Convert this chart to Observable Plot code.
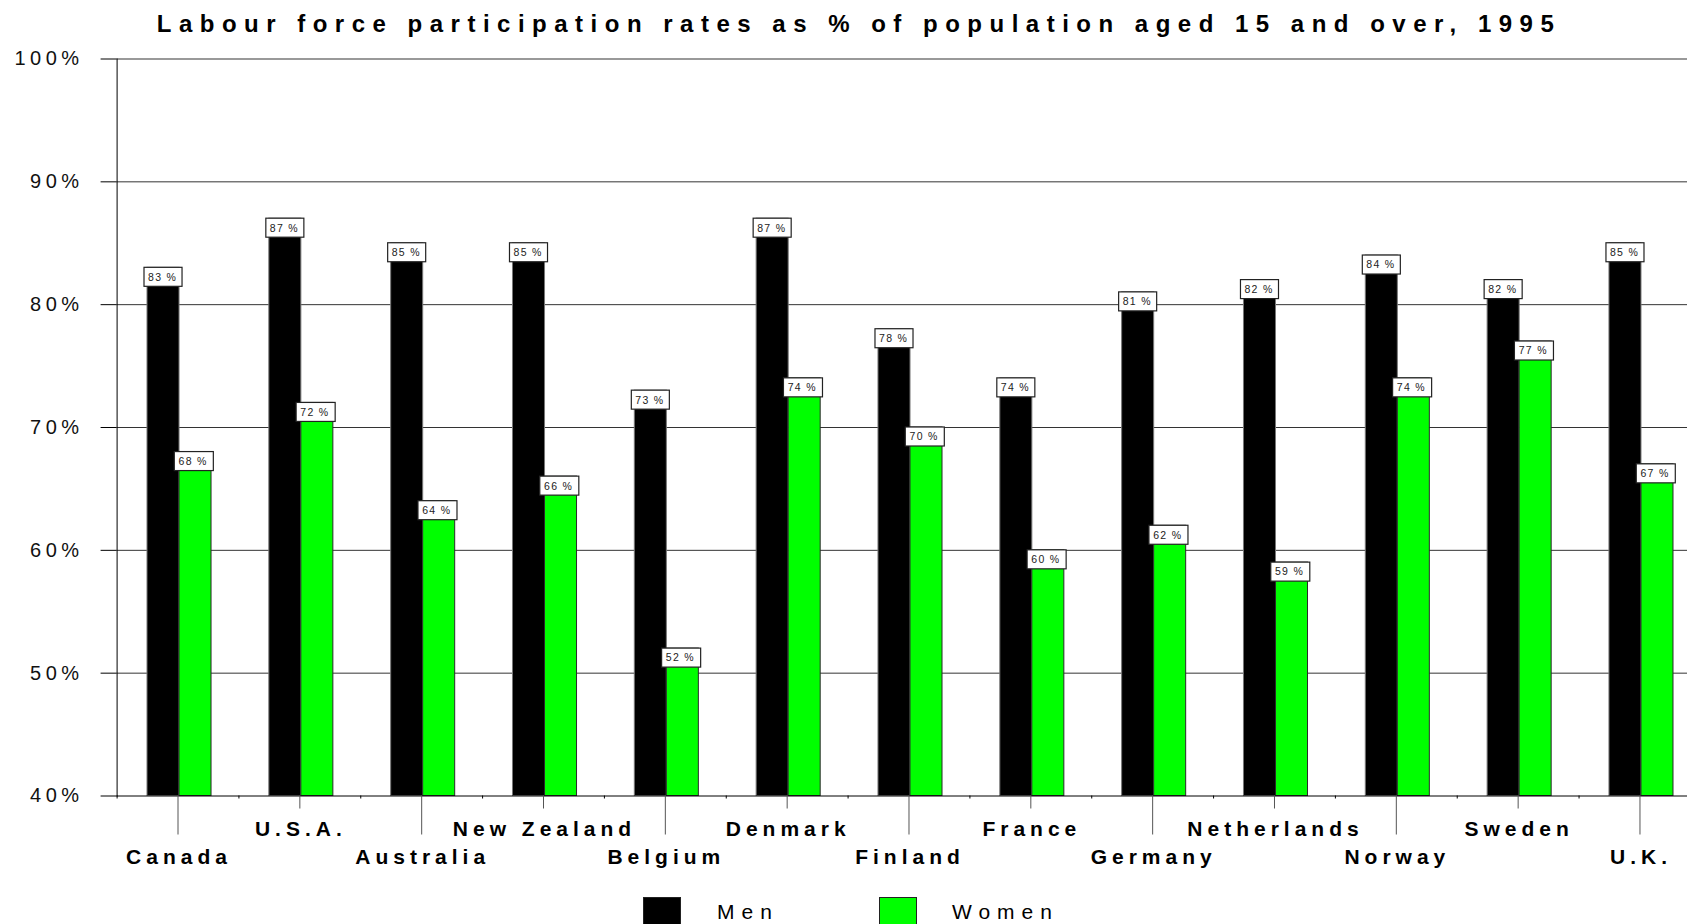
<!DOCTYPE html>
<html>
<head>
<meta charset="utf-8">
<script src="https://cdn.jsdelivr.net/npm/d3@7"></script>
<script src="https://cdn.jsdelivr.net/npm/@observablehq/plot@0.6"></script>
<style>
  html, body { margin: 0; padding: 0; background: #fff; overflow: hidden; }
  body { width: 1687px; height: 924px; font-family: "Liberation Sans", Arial, sans-serif; position: relative; }
  #title {
    height: 48px; line-height: 48px; white-space: nowrap;
    text-align: center; padding-left: 31px; box-sizing: border-box; width: 1687px;
    font-size: 24px; font-weight: bold; letter-spacing: 7.5px; color: #000;
  }
  #chart svg { display: block; }
  #chart g[aria-label="y-axis tick label"] { letter-spacing: 4.5px; }
  #chart g[aria-label="x-axis tick label"] { letter-spacing: 5px; }
  #chart g.value-label { letter-spacing: 1.3px; }
  #legend { position: relative; height: 40px; width: 1687px; }
  #legend .sw { position: absolute; top: 12.7px; width: 38px; height: 38px; box-sizing: border-box; border: 1px solid #222; }
  #legend .lb { position: absolute; top: 17px; font-size: 21px; line-height: 21px; letter-spacing: 7px; color: #000; }
</style>
</head>
<body>
<div id="title">Labour force participation rates as % of population aged 15 and over, 1995</div>
<div id="chart"></div>
<div id="legend"></div>
<script>
// Labour force participation, 1995 (% of population aged 15+)
const countries = ["Canada", "U.S.A.", "Australia", "New Zealand", "Belgium", "Denmark", "Finland",
                   "France", "Germany", "Netherlands", "Norway", "Sweden", "U.K."];
const men   = [83, 87, 85, 85, 73, 87, 78, 74, 81, 82, 84, 82, 85];
const women = [68, 72, 64, 66, 52, 74, 70, 60, 62, 59, 74, 77, 67];
const series = ["Men", "Women"];
const seriesColors = ["#000000", "#00ff00"];
const yTicks = [40, 50, 60, 70, 80, 90, 100];

const rows = countries.map((country, i) => ({country, men: men[i], women: women[i]}));
const lowerRow = countries.filter((_, i) => i % 2 === 0);
const upperRow = countries.filter((_, i) => i % 2 === 1);

const W = 1687, H = 836;
const left = 116.6, step = 121.83;
const base = yTicks[0];
const pct = v => `${v} %`;
const labelFont = {fontSize: 21, fontWeight: "bold", fill: "#000", label: null};

const chart = Plot.plot({
  width: W,
  height: H,
  marginLeft: left,
  marginRight: 0,
  marginTop: 10.5,
  marginBottom: 88.5,
  style: {fontFamily: "'Liberation Sans', Arial, sans-serif", background: "#fff", overflow: "hidden"},
  x: {domain: countries, range: [left, left + step * countries.length], padding: 0, round: false, label: null},
  y: {domain: [yTicks[0], yTicks[yTicks.length - 1]], label: null},
  marks: [
    Plot.gridY(yTicks.slice(1), {stroke: "#000", strokeOpacity: 0.8, strokeWidth: 1}),
    // bars
    Plot.barY(rows, {x: "country", y1: base, y2: "men", fill: seriesColors[0], stroke: "#777", strokeWidth: 1,
                     insetLeft: 30.4, insetRight: 59.4}),
    Plot.barY(rows, {x: "country", y1: base, y2: "women", fill: seriesColors[1], stroke: "#2a2a2a", strokeWidth: 1,
                     insetLeft: 62.4, insetRight: 27.4}),
    // axes
    Plot.axisY(yTicks, {tickSize: 16, tickPadding: 17.5, tickFormat: d => `${d}%`, fontSize: 20,
                        stroke: "#000", fill: "#111", label: null}),
    Plot.frame({anchor: "left", stroke: "#000"}),
    Plot.ruleY([base], {stroke: "#000"}),
    Plot.axisX(countries, {tickSize: 3, text: null, dx: -step / 2, stroke: "#000", label: null}),
    // country names in two staggered rows, with long and short ticks
    Plot.axisX(upperRow, {tickSize: 13, text: null, stroke: "#555", label: null}),
    Plot.axisX(lowerRow, {tickSize: 39, text: null, stroke: "#555", label: null}),
    Plot.axisX(upperRow, {tickSize: 0, tickPadding: 25, dx: 1, ...labelFont}),
    Plot.axisX(lowerRow, {tickSize: 0, tickPadding: 53, dx: 1, ...labelFont}),
    // value label boxes, top edge at the value
    Plot.barY(rows, {x: "country", y1: "men", y2: "men", insetBottom: -19, insetLeft: 27.4, insetRight: 56.4,
                     fill: "#fff", stroke: "#222", strokeWidth: 1.2}),
    Plot.barY(rows, {x: "country", y1: "women", y2: "women", insetBottom: -19, insetLeft: 57.7, insetRight: 25.1,
                     fill: "#fff", stroke: "#222", strokeWidth: 1.2}),
    Plot.text(rows, {x: "country", y: "men", text: d => pct(d.men), dy: 9.5, dx: -30, textAnchor: "start",
                     fontSize: 10.5, fill: "#222", className: "value-label"}),
    Plot.text(rows, {x: "country", y: "women", text: d => pct(d.women), dy: 9.5, dx: 0.5, textAnchor: "start",
                     fontSize: 10.5, fill: "#222", className: "value-label"})
  ]
});
chart.querySelectorAll("g.value-label").forEach(n => n.style.letterSpacing = "1.3px");
document.getElementById("chart").appendChild(chart);

// legend
const legend = document.getElementById("legend");
const swatchX = [643, 878.5];
const labelX = [717, 952];
series.forEach((name, i) => {
  const sw = document.createElement("div");
  sw.className = "sw";
  sw.style.left = swatchX[i] + "px";
  sw.style.background = seriesColors[i];
  legend.appendChild(sw);
  const lb = document.createElement("div");
  lb.className = "lb";
  lb.style.left = labelX[i] + "px";
  lb.textContent = name;
  legend.appendChild(lb);
});
</script>
</body>
</html>
